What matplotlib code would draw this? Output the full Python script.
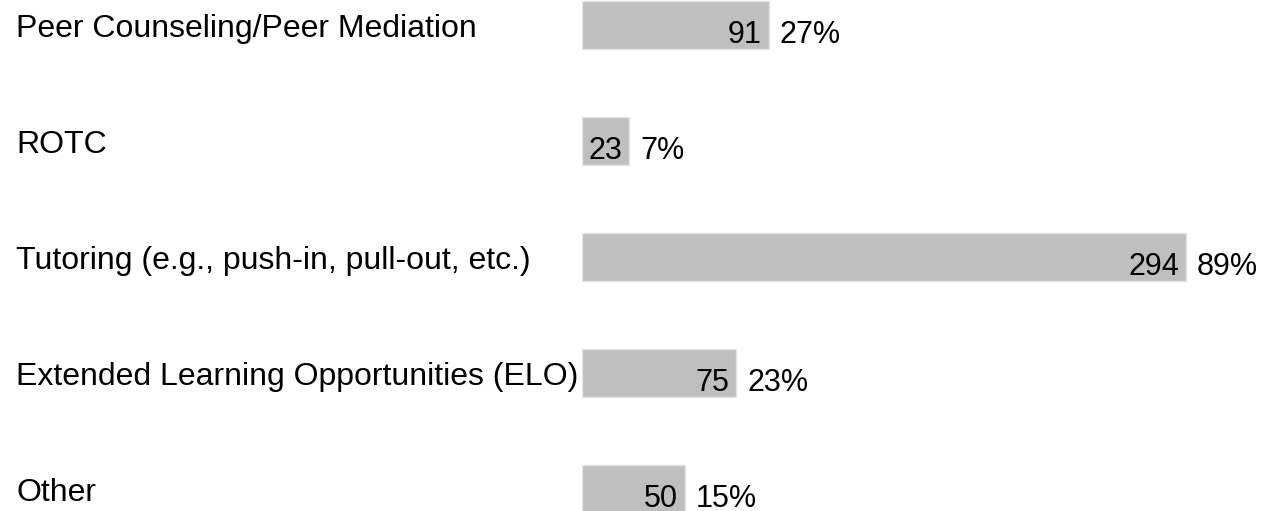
import matplotlib.pyplot as plt
from matplotlib.transforms import blended_transform_factory

categories = ['Peer Counseling/Peer Mediation', 'ROTC', 'Tutoring (e.g., push-in, pull-out, etc.)',
              'Extended Learning Opportunities (ELO)', 'Other']
counts = [91, 23, 294, 75, 50]
percents = ['27%', '7%', '89%', '23%', '15%']

plt.rcParams['font.family'] = ['Liberation Sans', 'DejaVu Sans']

W, H = 1268, 511
fig = plt.figure(figsize=(W / 100, H / 100), dpi=100)
ax = fig.add_axes([582 / W, 0, 1 - 582 / W, 1])

pos = list(range(len(categories)))
ax.barh(pos, counts, height=0.41, color='#bfbfbf', edgecolor='#e4e4e4', linewidth=1)
ax.set_xlim(0, (W - 582) / 2.054)
ax.set_ylim(4.19, -0.2155)
ax.axis('off')

tr = blended_transform_factory(fig.transFigure, ax.transData)
for i, (cat, n, p) in enumerate(zip(categories, counts, percents)):
    ax.annotate(cat, (16 / W, i), xycoords=tr, xytext=(0, -4), textcoords='offset pixels',
                ha='left', va='center', fontsize=23)
    ax.annotate(str(n), (n, i), xytext=(-7, -10), textcoords='offset pixels',
                ha='right', va='center', fontsize=22)
    ax.annotate(p, (n, i), xytext=(11, -10), textcoords='offset pixels',
                ha='left', va='center', fontsize=22)

fig.savefig('out.png', dpi=100)
